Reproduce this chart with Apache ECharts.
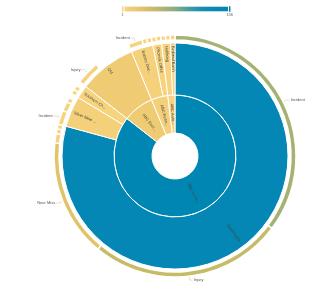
<!DOCTYPE html>
<html>
<head>
<meta charset="utf-8">
<script src="https://cdn.jsdelivr.net/npm/echarts@6/dist/echarts.min.js"></script>
<style>
  html, body { margin: 0; padding: 0; background: #fff; }
  #chart { width: 319px; height: 292px; }
</style>
</head>
<body>
<div id="chart"></div>
<script>
// inner ring: groups
var groups = ['ABC XX Nickel', 'ABC Energy Ltd', 'ABC Resources', 'ABC Automotive']
// middle ring: sites, parent group and count
var sites = ['Sandringham Mine', 'Silver Mine Road', 'Southern Chase', 'Old', 'Battery Dock Yard', 'Phoenix Office', 'Halibong', 'Birdland Basin']
var siteGroup = [0, 0, 0, 1, 2, 2, 3, 3]
var siteValues = [126, 7, 3, 13, 5, 2, 2, 1]
// outer ring: incident types per site
var incSite = [0, 0, 0, 0, 0, 0, 1, 1, 1, 2, 2, 3, 4, 4, 4, 5, 5, 6, 6, 7]
var incNames = ['Incident', 'Injury', 'Near Miss', 'Hazard', 'Property Damage', 'Environment',
  'Incident', 'Injury', 'Near Miss', 'Incident', 'Injury', 'Injury',
  'Incident', 'Injury', 'Near Miss', 'Incident', 'Injury', 'Incident', 'Near Miss', 'Incident']
var incValues = [56, 41, 25, 2, 1, 1, 3, 2, 1, 1, 1, 5, 3, 1, 1, 1, 1, 1, 1, 1]

var visMin = 1
var visMax = 136

// build tree
var tree = groups.map(function (g) { return { name: g, children: [] } })
var siteNodes = sites.map(function (s, i) {
  var node = { name: s, value: siteValues[i], children: [] }
  tree[siteGroup[i]].children.push(node)
  return node
})
incNames.forEach(function (n, i) {
  siteNodes[incSite[i]].children.push({ name: n, value: incValues[i] })
})

// label-only pie in the same order (gaps where a site is not filled)
var pieData = []
siteNodes.forEach(function (s) {
  var sum = 0
  s.children.forEach(function (c) {
    pieData.push({ name: c.name, value: c.value })
    sum += c.value
  })
  if (s.value > sum) {
    pieData.push({ name: '', value: s.value - sum, label: { show: false }, labelLine: { show: false } })
  }
})

var font = 'Liberation Sans'
var chart = echarts.init(document.getElementById('chart'))
chart.setOption({
  animation: false,
  visualMap: {
    type: 'continuous',
    min: visMin,
    max: visMax,
    seriesIndex: 0,
    orient: 'horizontal',
    left: 106,
    top: -10,
    itemWidth: 5,
    itemHeight: 107,
    calculable: true,
    handleSize: 6,
    textStyle: { fontSize: 4, color: '#666', fontFamily: font },
    inRange: {
      color: ['#F8D47F', '#EBC96E', '#D3BE62', '#AFB66D', '#83AC86', '#3F9BA6', '#128DB2', '#0688B4', '#0086B3']
    }
  },
  series: [{
    type: 'sunburst',
    center: [175, 156],
    sort: null,
    nodeClick: false,
    data: tree,
    label: { fontSize: 4, color: '#444', fontFamily: font, overflow: 'truncate', ellipsis: '...' },
    itemStyle: { borderColor: '#fff', borderWidth: 1 },
    levels: [
      {},
      { r0: 23, r: 61, label: { width: 24 } },
      { r0: 61, r: 113, label: { width: 27, align: 'right', distance: 3 } },
      { r0: 116, r: 121, label: { show: false }, itemStyle: { borderWidth: 1.5 } }
    ]
  }, {
    type: 'pie',
    silent: true,
    center: [175, 156],
    radius: [116, 121],
    startAngle: 90,
    clockwise: true,
    avoidLabelOverlap: false,
    minShowLabelAngle: 5,
    data: pieData,
    itemStyle: { color: 'rgba(0,0,0,0)' },
    label: { fontSize: 4, color: '#555', fontFamily: font, distanceToLabelLine: 1 },
    labelLine: { length: 4, length2: 3, lineStyle: { color: '#d8cc98', width: 0.6 } }
  }]
})
</script>
</body>
</html>
